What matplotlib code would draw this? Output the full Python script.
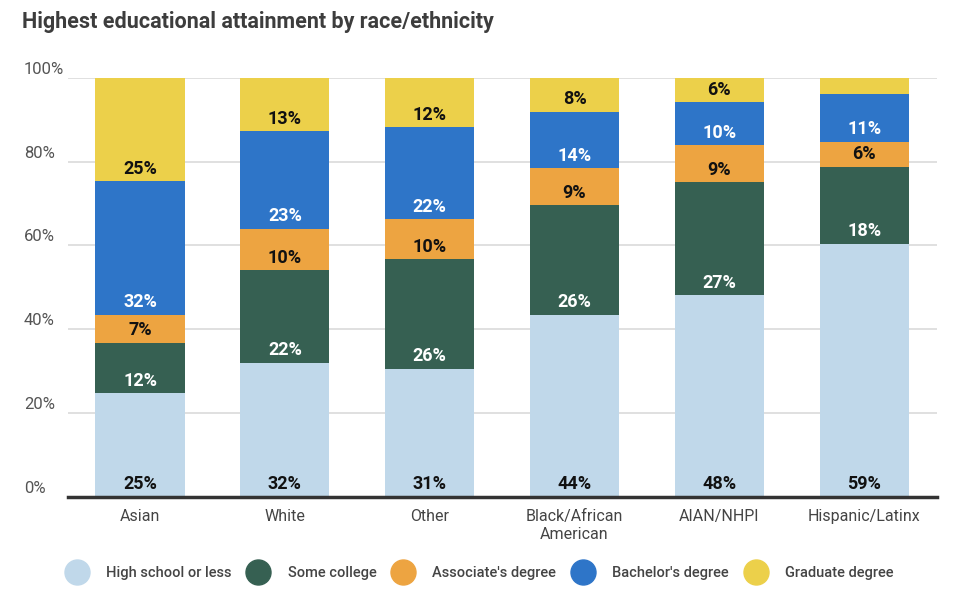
import matplotlib
matplotlib.use("Agg")
import matplotlib.pyplot as plt
import matplotlib.transforms as mtransforms
from matplotlib.lines import Line2D
import numpy as np

plt.rcParams['font.family'] = ['Roboto', 'DejaVu Sans']

groups = ["Asian", "White", "Other", "Black/African\nAmerican", "AIAN/NHPI", "Hispanic/Latinx"]
levels = ["High school or less", "Some college", "Associate's degree", "Bachelor's degree", "Graduate degree"]

# shares in percent, per group (one list per level)
high_school = [24.7, 32.0, 30.6, 43.6, 48.1, 59.0]
some_college = [12.0, 22.0, 26.1, 26.2, 26.9, 17.9]
associate = [6.7, 10.0, 9.6, 8.8, 8.9, 5.9]
bachelor = [31.9, 23.2, 22.0, 13.6, 10.2, 11.0]
graduate = [24.7, 12.8, 11.8, 8.1, 5.9, 3.9]

colors = ["#c0d8ea", "#366052", "#eda441", "#2e75c8", "#ecd04a"]
label_colors = ["#111111", "white", "#111111", "white", "#111111"]

series = np.array([high_school, some_college, associate, bachelor, graduate])
totals = series.sum(axis=0)
shares = series / totals * 100

fig = plt.figure(figsize=(9.6, 6.1), dpi=100)
ax = fig.add_axes([0.0704, 0.1857, 0.9053, 0.6869])

x = np.arange(len(groups))
bottom = np.zeros(len(groups))
for i, lvl in enumerate(levels):
    ax.bar(x, shares[i], width=0.615, bottom=bottom, color=colors[i], linewidth=0, zorder=2)
    for j in range(len(groups)):
        if series[i][j] >= 5:
            ax.annotate(f"{series[i][j]:.0f}%", (x[j], bottom[j]), xytext=(0, 9.0),
                        textcoords="offset points", ha="center", va="center",
                        fontsize=13, fontweight="bold", color=label_colors[i], zorder=3)
    bottom += shares[i]

ax.set_xlim(-0.5, 5.5)
ax.set_ylim(0, 100)
yt = [0, 20, 40, 60, 80, 100]
ax.set_yticks(yt)
ax.set_yticklabels([])
ax.grid(axis="y", color="#dddddd", linewidth=1.3, zorder=0)
ax.tick_params(axis="both", length=0)
for s in ["top", "right", "left"]:
    ax.spines[s].set_visible(False)
ax.spines["bottom"].set_color("#333333")
ax.spines["bottom"].set_linewidth(2.5)
ax.spines["bottom"].set_zorder(4)

ax.set_xticks(x)
ax.set_xticklabels(groups, fontsize=11.5, color="#444444", linespacing=1.25)
ax.tick_params(axis="x", pad=9)

# y labels sit just above the gridlines, left aligned
trans = mtransforms.blended_transform_factory(fig.transFigure, ax.transData)
trans = trans + mtransforms.ScaledTranslation(0, 4 / 100, fig.dpi_scale_trans)
for v in yt:
    ax.text(24 / 960, v, f"{v}%", transform=trans, ha="left", va="baseline",
            fontsize=12, color="#555555")

fig.text(22 / 960, 1 - 22 / 610, "Highest educational attainment by race/ethnicity",
         ha="left", va="center", fontsize=15.5, fontweight="bold", color="#3d3d3d")

handles = [Line2D([], [], marker="o", linestyle="none", markersize=18,
                  markerfacecolor=c, markeredgecolor=c) for c in colors]
leg = fig.legend(handles, levels, loc="center", bbox_to_anchor=(479 / 960, 1 - 573 / 610), ncol=5,
                 frameon=False, fontsize=10.5, labelcolor="#444444", handlelength=1.7,
                 handletextpad=1.15, columnspacing=1.0)
for t in leg.get_texts():
    t.set_fontweight("medium")

fig.savefig("out.png", dpi=100)
